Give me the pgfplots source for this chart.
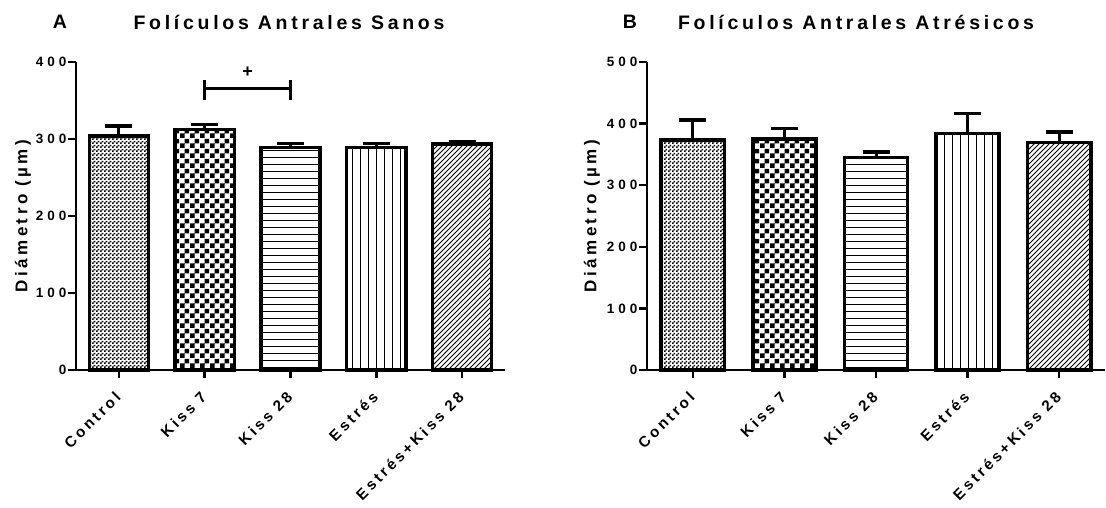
\documentclass[border=0pt]{standalone}
\usepackage{fontspec}
\setmainfont{Liberation Sans}[LetterSpace=25]
\newfontfamily\ttlfont{Liberation Sans}[LetterSpace=19]
\newfontfamily\labfont{Liberation Sans}[LetterSpace=20]
\newfontfamily\xfont{Liberation Sans}[LetterSpace=20]
\newfontfamily\yfont{Liberation Sans}[LetterSpace=30]
\usepackage{pgfplots}
\pgfplotsset{compat=1.18}
\usetikzlibrary{patterns}

% hatchings as in the Prism figure
\pgfdeclarepatternformonly{finecheck}{\pgfpointorigin}{\pgfqpoint{4pt}{4pt}}{\pgfqpoint{4pt}{4pt}}{%
  \pgfpathrectangle{\pgfpointorigin}{\pgfqpoint{2pt}{2pt}}%
  \pgfpathrectangle{\pgfqpoint{2pt}{2pt}}{\pgfqpoint{2pt}{2pt}}%
  \pgfusepath{fill}}
\pgfdeclarepatternformonly{bigcheck}{\pgfpointorigin}{\pgfqpoint{10pt}{10pt}}{\pgfqpoint{10pt}{10pt}}{%
  \pgfpathrectangle{\pgfpointorigin}{\pgfqpoint{5pt}{5pt}}%
  \pgfpathrectangle{\pgfqpoint{5pt}{5pt}}{\pgfqpoint{5pt}{5pt}}%
  \pgfusepath{fill}}
\pgfdeclarepatternformonly{hlines}{\pgfpointorigin}{\pgfqpoint{100pt}{1pt}}{\pgfqpoint{100pt}{7pt}}{%
  \pgfsetlinewidth{0.9pt}%
  \pgfpathmoveto{\pgfqpoint{0pt}{0.5pt}}\pgfpathlineto{\pgfqpoint{100pt}{0.5pt}}%
  \pgfusepath{stroke}}
\pgfdeclarepatternformonly{vlines}{\pgfpointorigin}{\pgfqpoint{1pt}{100pt}}{\pgfqpoint{8pt}{100pt}}{%
  \pgfsetlinewidth{0.9pt}%
  \pgfpathmoveto{\pgfqpoint{0.5pt}{0pt}}\pgfpathlineto{\pgfqpoint{0.5pt}{100pt}}%
  \pgfusepath{stroke}}
\pgfdeclarepatternformonly{nelines}{\pgfqpoint{-1pt}{-1pt}}{\pgfqpoint{6pt}{6pt}}{\pgfqpoint{5pt}{5pt}}{%
  \pgfsetlinewidth{0.9pt}%
  \pgfpathmoveto{\pgfqpoint{0pt}{0pt}}\pgfpathlineto{\pgfqpoint{5.1pt}{5.1pt}}%
  \pgfusepath{stroke}}

\pgfplotsset{
  prism/.style={
    scale only axis,
    height=308pt,
    xmin=-0.5, xmax=4.5,
    ymin=0,
    axis x line=bottom, axis y line=left,
    axis line style={line width=2.5pt,-},
    tick style={line width=2.5pt,black},
    major tick length=8pt,
    tick align=outside,
    xtick={0,1,2,3,4},
    xticklabels={Control,Kiss 7,Kiss 28,Estrés,Estrés+Kiss 28},
    xticklabel style={font=\xfont\bfseries\fontsize{15.2}{17}\selectfont,rotate=45,anchor=east,xshift=-9pt,yshift=-11pt},
    yticklabel style={font=\yfont\bfseries\fontsize{13.5}{15}\selectfont,xshift=2pt},
    /pgf/number format/assume math mode=true,
    ylabel={\labfont\bfseries\fontsize{17}{20}\selectfont Diámetro (µm)},
    clip=false,
  },
  gbar/.style={
    ybar, bar width=0.69, bar shift=0pt,
    draw=black, line width=3.5pt, fill=white,
    postaction={pattern=#1},
    error bars/.cd, y dir=plus, y explicit,
    error bar style={line width=3pt,black},
    error mark options={rotate=90,line width=3.5pt,mark size=13.5pt,black},
  },
}

\begin{document}
\begin{tikzpicture}
\useasboundingbox (-76pt,-138pt) rectangle (1030pt,370pt);

% A: healthy antral follicles
\begin{axis}[prism, at={(0pt,0pt)}, anchor=south west,
  width=429pt, ymax=400, ytick={0,100,200,300,400},
  ylabel style={yshift=-2pt}]
\addplot[gbar=finecheck] coordinates {(0,304) +- (0,13)};
\addplot[gbar=bigcheck]  coordinates {(1,312.5) +- (0,6.5)};
\addplot[gbar=hlines]    coordinates {(2,289) +- (0,5)};
\addplot[gbar=vlines]    coordinates {(3,289) +- (0,5)};
\addplot[gbar=nelines]   coordinates {(4,293.5) +- (0,3.5)};
\draw[line width=3pt] (axis cs:1,365) -- (axis cs:2,365);
\draw[line width=3pt] (axis cs:1,351) -- (axis cs:1,377);
\draw[line width=3pt] (axis cs:2,351) -- (axis cs:2,377);
\node[font=\bfseries\fontsize{18}{20}\selectfont] at (axis cs:1.5,387) {+};
\end{axis}

% B: atretic antral follicles
\begin{axis}[prism, at={(571pt,0pt)}, anchor=south west,
  width=458pt, ymax=500, ytick={0,100,200,300,400,500}]
\addplot[gbar=finecheck] coordinates {(0,373) +- (0,33)};
\addplot[gbar=bigcheck]  coordinates {(1,375) +- (0,17)};
\addplot[gbar=hlines]    coordinates {(2,345) +- (0,9)};
\addplot[gbar=vlines]    coordinates {(3,384) +- (0,32)};
\addplot[gbar=nelines]   coordinates {(4,369) +- (0,17)};
\end{axis}

\node[font=\ttlfont\bfseries\fontsize{19.5}{22}\selectfont] at (-16pt,348pt) {A};
\node[font=\ttlfont\bfseries\fontsize{19.5}{22}\selectfont] at (213pt,348pt) {Folículos Antrales Sanos};
\node[font=\ttlfont\bfseries\fontsize{19.5}{22}\selectfont] at (554pt,348pt) {B};
\node[font=\ttlfont\bfseries\fontsize{19.5}{22}\selectfont] at (780pt,348pt) {Folículos Antrales Atrésicos};
\end{tikzpicture}
\end{document}
